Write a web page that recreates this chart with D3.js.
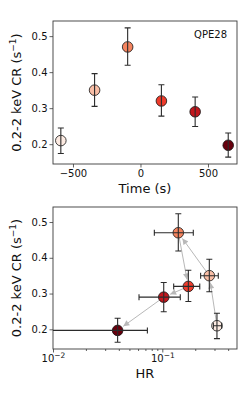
<!DOCTYPE html>
<html>
<head>
<meta charset="utf-8">
<script src="https://cdn.jsdelivr.net/npm/d3@7"></script>
<style>
  body { margin: 0; background: #fff; }
  text { font-family: "DejaVu Sans", sans-serif; }
</style>
</head>
<body>
<div id="chart"></div>
<script>
// values
let times = [-590, -340, -95, 155, 405, 650]
let rates = [0.21, 0.35, 0.47, 0.32, 0.29, 0.197]
let rate_lo = [0.174, 0.305, 0.419, 0.278, 0.249, 0.164]
let rate_hi = [0.245, 0.396, 0.523, 0.365, 0.331, 0.231]
let hr = [0.316, 0.269, 0.14, 0.173, 0.103, 0.039]
let hr_lo = [0.293, 0.224, 0.0845, 0.127, 0.0612, 0.005]
let hr_hi = [0.349, 0.325, 0.192, 0.22, 0.146, 0.073]
let colors = ["#fdebe2", "#f9bea6", "#f4845f", "#ee3b2b", "#c2161c", "#67000d"]
let rate_ticks = [0.2, 0.3, 0.4, 0.5]
let time_ticks = [-500, 0, 500]
let hr_ticks = [0.01, 0.1]
let hr_minor = [0.02, 0.03, 0.04, 0.05, 0.06, 0.07, 0.08, 0.09, 0.2, 0.3, 0.4]

let points = times.map((t, i) => ({
    t: t, cr: rates[i], lo: rate_lo[i], hi: rate_hi[i],
    hr: hr[i], hlo: hr_lo[i], hhi: hr_hi[i], color: colors[i]
}))

let width = 246, height = 393
let left = 53, right = 237
let frame_color = "#3a3a3a"
let bar_color = "#2b2b2b"

let svg = d3.select("#chart").append("svg")
    .attr("width", width)
    .attr("height", height)

svg.append("defs").append("marker")
    .attr("id", "head")
    .attr("viewBox", "0 0 10 10")
    .attr("refX", 10).attr("refY", 5)
    .attr("markerWidth", 7).attr("markerHeight", 6)
    .attr("markerUnits", "userSpaceOnUse")
    .attr("orient", "auto")
    .append("path")
    .attr("d", "M0,0 L10,5 L0,10 Z")
    .style("fill", "#b8b8b8")

function draw_panel(top, bottom, x, x_ticks, x_fmt, x_label, minor) {
    let y = d3.scaleLinear().domain([0.145, 0.542]).range([bottom, top])
    let g = svg.append("g")

    let xaxis = d3.axisBottom(x).tickValues(x_ticks).tickSize(3.5).tickPadding(2).tickFormat(x_fmt)
    let gx = g.append("g").attr("transform", `translate(0,${bottom})`).call(xaxis)
    let yaxis = d3.axisLeft(y).tickValues(rate_ticks).tickSize(3.5).tickPadding(2).tickFormat(d3.format(".1f"))
    let gy = g.append("g").attr("transform", `translate(${left},0)`).call(yaxis)

    if (minor) {
        g.append("g").attr("transform", `translate(0,${bottom})`)
            .call(d3.axisBottom(x).tickValues(minor).tickSize(2).tickFormat(""))
            .call(a => a.select(".domain").remove())
    }

    g.selectAll(".domain").remove()
    g.selectAll(".tick line").style("stroke", frame_color).style("stroke-width", 0.8)
    g.selectAll(".tick text").style("font-size", "10px").style("fill", "#111")

    g.append("rect")
        .attr("x", left).attr("y", top)
        .attr("width", right - left).attr("height", bottom - top)
        .style("fill", "none").style("stroke", frame_color).style("stroke-width", 0.9)

    g.append("text")
        .attr("transform", `translate(21,${(top + bottom) / 2}) rotate(-90)`)
        .attr("text-anchor", "middle")
        .style("font-size", "13px")
        .style("fill", "#111")
        .html('0.2-2 keV CR (s<tspan dy="-5" font-size="9px">−1</tspan><tspan dy="5">)</tspan>')

    g.append("text")
        .attr("x", (left + right) / 2).attr("y", bottom + 29)
        .attr("text-anchor", "middle")
        .style("font-size", "13px")
        .style("fill", "#111")
        .text(x_label)

    return { g: g, y: y }
}

// top: light curve
let x_time = d3.scaleLinear().domain([-648, 715]).range([left, right])
let p1 = draw_panel(21, 164, x_time, time_ticks, d3.format("d"), "Time (s)", null)
p1.g.select("g").selectAll(".tick text").text(d => d < 0 ? "−" + Math.abs(d) : d)

p1.g.append("text")
    .attr("x", 227).attr("y", 38)
    .attr("text-anchor", "end")
    .style("font-size", "10px")
    .style("fill", "#111")
    .text("QPE28")

let dots1 = p1.g.selectAll(".pt")
    .data(points)
    .enter().append("g")

dots1.append("circle")
    .attr("cx", d => x_time(d.t))
    .attr("cy", d => p1.y(d.cr))
    .attr("r", 5.3)
    .style("fill", d => d.color)
    .style("stroke", "#111")
    .style("stroke-width", 0.8)

dots1.append("path")
    .attr("d", d => {
        let cx = x_time(d.t), y0 = p1.y(d.lo), y1 = p1.y(d.hi)
        return `M${cx},${y0}V${y1}M${cx - 3},${y0}H${cx + 3}M${cx - 3},${y1}H${cx + 3}`
    })
    .style("fill", "none")
    .style("stroke", bar_color)
    .style("stroke-width", 1.1)

// bottom: HR vs count rate
let x_hr = d3.scaleLog().domain([0.01, 0.482]).range([left, right])
let hr_fmt = d => "10"
let p2 = draw_panel(207, 349, x_hr, hr_ticks, hr_fmt, "HR", hr_minor)
p2.g.select("g").selectAll(".tick text").each(function(d) {
    let t = d3.select(this).text("10")
    t.append("tspan").attr("dy", "-4").style("font-size", "7.5px")
        .text(d === 0.01 ? "−2" : "−1")
})

svg.append("clipPath").attr("id", "frame2")
    .append("rect").attr("x", left).attr("y", 207).attr("width", right - left).attr("height", 142)

let arrows = p2.g.append("g")
points.slice(1).forEach((d, i) => {
    let a = points[i]
    let xa = x_hr(a.hr), ya = p2.y(a.cr)
    let xb = x_hr(d.hr), yb = p2.y(d.cr)
    let len = Math.hypot(xb - xa, yb - ya)
    let ux = (xb - xa) / len, uy = (yb - ya) / len
    arrows.append("line")
        .attr("x1", xa + ux * 2).attr("y1", ya + uy * 2)
        .attr("x2", xb - ux * 7).attr("y2", yb - uy * 7)
        .attr("marker-end", "url(#head)")
        .style("stroke", "#b8b8b8")
        .style("stroke-width", 1)
})

let dots2 = p2.g.append("g").attr("clip-path", "url(#frame2)")
    .selectAll(".pt")
    .data(points)
    .enter().append("g")

dots2.append("circle")
    .attr("cx", d => x_hr(d.hr))
    .attr("cy", d => p2.y(d.cr))
    .attr("r", 5.3)
    .style("fill", d => d.color)
    .style("stroke", "#111")
    .style("stroke-width", 0.8)

dots2.append("path")
    .attr("d", d => {
        let cx = x_hr(d.hr), cy = p2.y(d.cr)
        let y0 = p2.y(d.lo), y1 = p2.y(d.hi)
        let x0 = x_hr(d.hlo), x1 = x_hr(d.hhi)
        return `M${cx},${y0}V${y1}M${cx - 3},${y0}H${cx + 3}M${cx - 3},${y1}H${cx + 3}` +
            `M${x0},${cy}H${x1}M${x0},${cy - 3}V${cy + 3}M${x1},${cy - 3}V${cy + 3}`
    })
    .style("fill", "none")
    .style("stroke", bar_color)
    .style("stroke-width", 1.1)
</script>
</body>
</html>
